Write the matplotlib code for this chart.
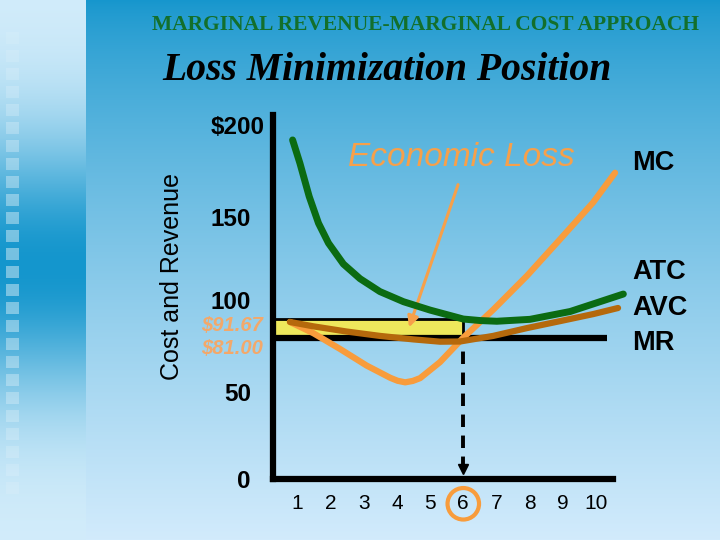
import numpy as np
import matplotlib
matplotlib.use("Agg")
import matplotlib.pyplot as plt
import matplotlib.transforms as mtransforms
from matplotlib.patches import Rectangle

plt.rcParams['font.family'] = ['Liberation Sans', 'DejaVu Sans']

#=======================
#   Datos
#=======================
cantidad = list(range(1, 11))
precio_mr = 81.00          # ingreso marginal = precio
q_optima = 6
atc_optima = 91.67

q_atc = [0.86, 1.08, 1.36, 1.64, 1.94, 2.39, 2.89, 3.49, 4.20, 5.00, 6.00, 6.51, 7.01, 8.01, 9.22, 10.82]
atc = [194.3, 181.0, 161.9, 146.6, 135.2, 123.2, 114.8, 107.4, 101.6, 96.8, 91.67, 90.8, 90.4, 91.5, 96.0, 106.0]

q_avc = [0.78, 1.48, 2.49, 3.49, 4.50, 5.30, 5.90, 6.90, 7.92, 8.92, 9.91, 10.66]
avc = [90.0, 87.5, 84.5, 82.0, 80.0, 78.7, 78.8, 82.0, 86.5, 90.5, 94.5, 98.0]

q_mc = [0.78, 1.49, 2.29, 3.09, 3.80, 4.02, 4.25, 4.48, 4.70, 5.30, 6.00, 6.90, 7.92, 8.92, 9.91, 10.57]
mc = [90.0, 83.5, 74.5, 65.0, 58.0, 56.3, 55.4, 56.2, 57.8, 67.0, 81.0, 97.0, 116.5, 137.5, 158.5, 175.5]

yticks = [0, 50, 100, 150, 200]
ytick_labels = ['0', '50', '100', '150', '\\$200']

#=======================
#   Figura y fondo
#=======================
fig = plt.figure(figsize=(7.2, 5.4), dpi=100)

bg = fig.add_axes([0, 0, 1, 1])
bg.axis('off')
H, W = 540, 720
t = np.linspace(0, 1, H)[:, None]
arriba = np.array([22, 150, 205]) / 255
abajo = np.array([210, 235, 252]) / 255
img = np.ones((H, W, 3)) * (arriba + (abajo - arriba) * t ** 0.75)[:, None, :]
# franja izquierda
yy = np.arange(H)[:, None]
d = np.exp(-((yy - 265) / 130.0) ** 2)
claro = np.array([212, 237, 251]) / 255
oscuro = np.array([20, 150, 205]) / 255
img[:, :86, :] = (claro + (oscuro - claro) * d)[:, None, :]
bg.imshow(img, extent=[0, W, H, 0], aspect='auto')
bg.set_xlim(0, W)
bg.set_ylim(H, 0)
for y0 in np.arange(32, 500, 18):
    a = 0.42 * np.exp(-((y0 - 265) / 190.0) ** 2)
    bg.add_patch(Rectangle((6, y0), 13, 12, color='white', alpha=a, lw=0))

#=======================
#   Ejes principales
#=======================
ax = fig.add_axes([273 / 720, 61 / 540, 357 / 720, 364 / 540])
ax.set_facecolor('none')
ax.set_xlim(0.27, 11.02)
ax.set_ylim(0, 208.6)
x0 = ax.get_xlim()[0]

for s in ['top', 'right']:
    ax.spines[s].set_visible(False)
ax.spines['left'].set_linewidth(4.5)
ax.spines['bottom'].set_linewidth(4.5)
ax.spines['bottom'].set_bounds(x0, 10.51)

ax.set_xticks(cantidad)
ax.set_xticklabels([str(c) for c in cantidad], fontsize=15)
ax.set_yticks(yticks)
ax.set_yticklabels(ytick_labels, fontsize=17.5, fontweight='bold')
ax.tick_params(axis='x', length=0, pad=11)
ax.tick_params(axis='y', length=0, pad=16)

lbl6 = ax.get_xticklabels()[cantidad.index(q_optima)]
lbl6.set_bbox(dict(boxstyle='circle,pad=0.3', fc='none', ec='#f89c3c', lw=3))
ylbls = ax.get_yticklabels()
ylbls[-1].set_transform(ylbls[-1].get_transform() +
                        mtransforms.ScaledTranslation(0.14, 0.05, fig.dpi_scale_trans))
ylbls[2].set_transform(ylbls[2].get_transform() +
                       mtransforms.ScaledTranslation(0, 0.05, fig.dpi_scale_trans))

# area de perdida economica
ax.add_patch(Rectangle((x0, precio_mr), q_optima - x0, atc_optima - precio_mr,
                       facecolor='#eee85c', edgecolor='black', lw=2, zorder=1))
ax.hlines(precio_mr, x0, 10.33, color='black', lw=4.5, zorder=2)
ax.vlines(q_optima, 6, precio_mr, color='black', lw=2.8,
          linestyles=(0, (3.2, 2.2)), zorder=2)
ax.plot(q_optima, 5.5, marker='v', color='black', markersize=7, zorder=2)

estilo = dict(solid_capstyle='round', solid_joinstyle='round')
ax.plot(q_mc, mc, color='#f89c3c', lw=4.5, zorder=3, **estilo)
ax.plot(q_avc, avc, color='#b5690c', lw=4.5, zorder=4, **estilo)
ax.plot(q_atc, atc, color='#0b6b12', lw=5, zorder=5, **estilo)

# etiquetas de precio
ax.annotate('\\$%.2f' % atc_optima, xy=(x0, atc_optima), xytext=(-7, -4.5),
            textcoords='offset points', ha='right', va='center',
            fontsize=14.5, fontweight='bold', fontstyle='italic', color='#f3a86a')
ax.annotate('\\$%.2f' % precio_mr, xy=(x0, precio_mr), xytext=(-7, -8),
            textcoords='offset points', ha='right', va='center',
            fontsize=14.5, fontweight='bold', fontstyle='italic', color='#f3a86a')

# nombres de curvas
for nombre, yv in [('MC', 181), ('ATC', 118.6), ('AVC', 98), ('MR', 78)]:
    ax.text(11.08, yv, nombre, fontsize=19.5, fontweight='bold', va='center', ha='left')

ax.text(5.93, 184, 'Economic Loss', fontsize=24, fontstyle='italic',
        color='#f7a04a', ha='center', va='center')
ax.annotate('', xy=(4.34, 85.4), xytext=(5.87, 170.2),
            arrowprops=dict(arrowstyle='-|>', color='#f7a04a', lw=2.2, mutation_scale=16))

#=======================
#   Textos
#=======================
fig.text(172 / 720, 1 - 277 / 540, 'Cost and Revenue', rotation=90,
         fontsize=18, ha='center', va='center')
fig.text(426 / 720, 1 - 24.5 / 540, 'MARGINAL REVENUE-MARGINAL COST APPROACH',
         family='Liberation Serif', fontsize=15.5, fontweight='bold',
         color='#136f2b', ha='center', va='center')
fig.text(387 / 720, 1 - 70 / 540, 'Loss Minimization Position',
         family='Liberation Serif', fontsize=28.5, fontweight='bold',
         fontstyle='italic', color='black', ha='center', va='center')

fig.savefig('out.png', dpi=100)
